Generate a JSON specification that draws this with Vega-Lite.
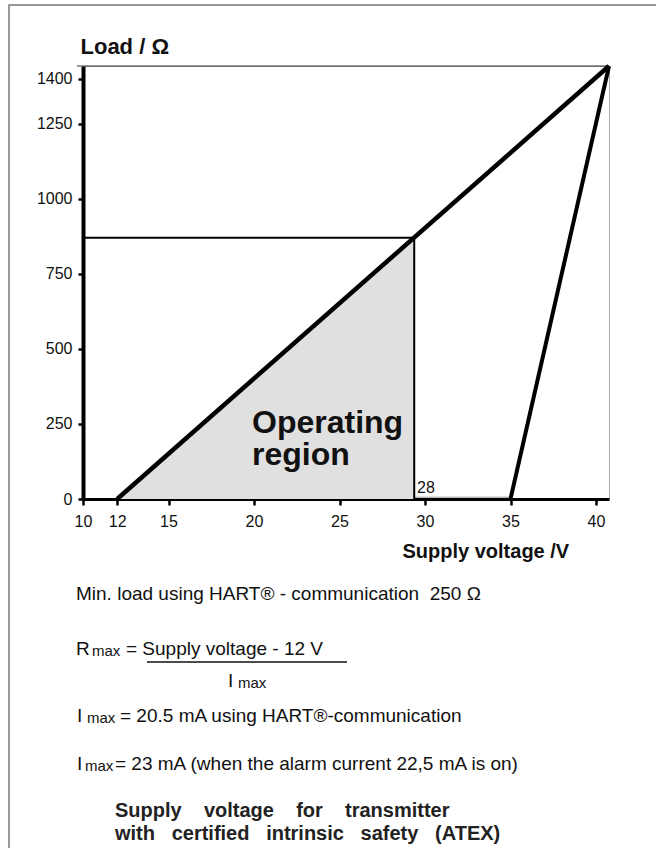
{
  "$schema": "https://vega.github.io/schema/vega-lite/v6.json",
  "width": 526,
  "height": 433,
  "autosize": "none",
  "padding": {"left": 83, "top": 66, "right": 47, "bottom": 349},
  "background": "white",
  "config": {
    "view": {"stroke": "#aaaaaa", "strokeWidth": 1},
    "font": "Liberation Sans"
  },
  "datasets": {
    "lines": [
      {"series": "diagonal", "v": 12, "r": 0},
      {"series": "diagonal", "v": 40.76, "r": 1443},
      {"series": "steep", "v": 35, "r": 0},
      {"series": "steep", "v": 40.76, "r": 1443},
      {"series": "limitH", "v": 10, "r": 871},
      {"series": "limitH", "v": 29.37, "r": 871},
      {"series": "limitV", "v": 29.37, "r": 0},
      {"series": "limitV", "v": 29.37, "r": 871}
    ],
    "region": [
      {"v": 12, "r": 0},
      {"v": 29.37, "r": 871}
    ]
  },
  "layer": [
    {
      "data": {"name": "region"},
      "mark": {"type": "area", "color": "#e0e0e0", "opacity": 1},
      "encoding": {
        "x": {
          "field": "v", "type": "quantitative", "title": "Supply voltage /V",
          "scale": {"domain": [10, 40.76], "nice": false, "zero": false},
          "axis": {
            "values": [10, 12, 15, 20, 25, 30, 35, 40],
            "format": "d",
            "grid": false,
            "domainColor": "#000000", "domainWidth": 3,
            "tickColor": "#000000", "tickWidth": 2.5, "tickSize": 6,
            "labelFont": "Liberation Sans", "labelFontSize": 16, "labelColor": "#111111", "labelPadding": 8,
            "labelFlush": false, "labelOverlap": false,
            "title": "Supply voltage /V",
            "titleFont": "Liberation Sans", "titleFontSize": 20, "titleFontWeight": "bold", "titleColor": "#111111",
            "titleAlign": "left", "titleBaseline": "alphabetic", "titleX": 319, "titleY": 58
          }
        },
        "y": {
          "field": "r", "type": "quantitative", "title": "Load / Ω",
          "scale": {"domain": [0, 1443], "nice": false, "zero": true},
          "axis": {
            "values": [0, 250, 500, 750, 1000, 1250, 1400],
            "format": "d",
            "grid": false,
            "domainColor": "#000000", "domainWidth": 4,
            "tickColor": "#000000", "tickWidth": 2.5, "tickSize": 5,
            "labelFont": "Liberation Sans", "labelFontSize": 16, "labelColor": "#111111", "labelPadding": 6,
            "labelFlush": false, "labelOverlap": false,
            "title": "Load / Ω",
            "titleFont": "Liberation Sans", "titleFontSize": 22, "titleFontWeight": "bold", "titleColor": "#111111",
            "titleAngle": 0, "titleAlign": "left", "titleBaseline": "alphabetic", "titleX": -3, "titleY": -13
          }
        }
      }
    },
    {
      "data": {"values": [{"k": 1}]},
      "mark": {"type": "rule", "color": "#999999", "strokeWidth": 1},
      "encoding": {"x": {"datum": 29.37}, "x2": {"datum": 35}, "y": {"datum": 6}}
    },
    {
      "data": {"values": [{"k": 1}]},
      "mark": {"type": "rule", "color": "#333333", "strokeWidth": 1},
      "encoding": {"x": {"datum": 9.6491}, "x2": {"datum": 40.76}, "y": {"datum": 1443}}
    },
    {
      "data": {"name": "lines"},
      "transform": [{"filter": "datum.series === 'limitH' || datum.series === 'limitV'"}],
      "mark": {"type": "line", "color": "#000000", "strokeWidth": 2},
      "encoding": {
        "x": {"field": "v", "type": "quantitative", "title": "Supply voltage /V"},
        "y": {"field": "r", "type": "quantitative", "title": "Load / Ω"},
        "detail": {"field": "series"}
      }
    },
    {
      "data": {"name": "lines"},
      "transform": [{"filter": "datum.series === 'diagonal'"}],
      "mark": {"type": "line", "color": "#000000", "strokeWidth": 4.5},
      "encoding": {
        "x": {"field": "v", "type": "quantitative", "title": "Supply voltage /V"},
        "y": {"field": "r", "type": "quantitative", "title": "Load / Ω"}
      }
    },
    {
      "data": {"name": "lines"},
      "transform": [{"filter": "datum.series === 'steep'"}],
      "mark": {"type": "line", "color": "#000000", "strokeWidth": 4},
      "encoding": {
        "x": {"field": "v", "type": "quantitative", "title": "Supply voltage /V"},
        "y": {"field": "r", "type": "quantitative", "title": "Load / Ω"}
      }
    },
    {
      "data": {"values": [{"k": 1}]},
      "mark": {"type": "text", "font": "Liberation Sans", "align": "left", "baseline": "alphabetic", "color": "#111111", "fontSize": 32, "fontWeight": "bold"},
      "encoding": {"x": {"datum": 19.883}, "y": {"datum": 219.95}, "text": {"value": "Operating"}}
    },
    {
      "data": {"values": [{"k": 1}]},
      "mark": {"type": "text", "font": "Liberation Sans", "align": "left", "baseline": "alphabetic", "color": "#111111", "fontSize": 32, "fontWeight": "bold"},
      "encoding": {"x": {"datum": 19.883}, "y": {"datum": 113.31}, "text": {"value": "region"}}
    },
    {
      "data": {"values": [{"k": 1}]},
      "mark": {"type": "text", "font": "Liberation Sans", "align": "left", "baseline": "alphabetic", "color": "#111111", "fontSize": 16},
      "encoding": {"x": {"datum": 29.532}, "y": {"datum": 20}, "text": {"value": "28"}}
    },
    {
      "data": {"values": [{"k": 1}]},
      "mark": {"type": "text", "font": "Liberation Sans", "align": "left", "baseline": "alphabetic", "color": "#111111", "fontSize": 19},
      "encoding": {"x": {"datum": 9.5906}, "y": {"datum": -336.59}, "text": {"value": "Min. load using HART® - communication\u00a0\u00a0250 Ω"}}
    },
    {
      "data": {"values": [{"k": 1}]},
      "mark": {"type": "text", "font": "Liberation Sans", "align": "left", "baseline": "alphabetic", "color": "#111111", "fontSize": 19},
      "encoding": {"x": {"datum": 9.5906}, "y": {"datum": -519.88}, "text": {"value": "R"}}
    },
    {
      "data": {"values": [{"k": 1}]},
      "mark": {"type": "text", "font": "Liberation Sans", "align": "left", "baseline": "alphabetic", "color": "#111111", "fontSize": 15},
      "encoding": {"x": {"datum": 10.5263}, "y": {"datum": -523}, "text": {"value": "max"}}
    },
    {
      "data": {"values": [{"k": 1}]},
      "mark": {"type": "text", "font": "Liberation Sans", "align": "left", "baseline": "alphabetic", "color": "#111111", "fontSize": 19},
      "encoding": {"x": {"datum": 12.5146}, "y": {"datum": -519.88}, "text": {"value": "= Supply voltage - 12 V"}}
    },
    {
      "data": {"values": [{"k": 1}]},
      "mark": {"type": "rule", "color": "#111111", "strokeWidth": 1.5},
      "encoding": {"x": {"datum": 13.7427}, "x2": {"datum": 25.4385}, "y": {"datum": -543.21}}
    },
    {
      "data": {"values": [{"k": 1}]},
      "mark": {"type": "text", "font": "Liberation Sans", "align": "left", "baseline": "alphabetic", "color": "#111111", "fontSize": 19},
      "encoding": {"x": {"datum": 18.4795}, "y": {"datum": -626.52}, "text": {"value": "I"}}
    },
    {
      "data": {"values": [{"k": 1}]},
      "mark": {"type": "text", "font": "Liberation Sans", "align": "left", "baseline": "alphabetic", "color": "#111111", "fontSize": 15},
      "encoding": {"x": {"datum": 19.0643}, "y": {"datum": -629}, "text": {"value": "max"}}
    },
    {
      "data": {"values": [{"k": 1}]},
      "mark": {"type": "text", "font": "Liberation Sans", "align": "left", "baseline": "alphabetic", "color": "#111111", "fontSize": 19},
      "encoding": {"x": {"datum": 9.6491}, "y": {"datum": -743.16}, "text": {"value": "I"}}
    },
    {
      "data": {"values": [{"k": 1}]},
      "mark": {"type": "text", "font": "Liberation Sans", "align": "left", "baseline": "alphabetic", "color": "#111111", "fontSize": 15},
      "encoding": {"x": {"datum": 10.2339}, "y": {"datum": -746}, "text": {"value": "max"}}
    },
    {
      "data": {"values": [{"k": 1}]},
      "mark": {"type": "text", "font": "Liberation Sans", "align": "left", "baseline": "alphabetic", "color": "#111111", "fontSize": 19},
      "encoding": {"x": {"datum": 12.1637}, "y": {"datum": -743.16}, "text": {"value": "= 20.5 mA using HART®-communication"}}
    },
    {
      "data": {"values": [{"k": 1}]},
      "mark": {"type": "text", "font": "Liberation Sans", "align": "left", "baseline": "alphabetic", "color": "#111111", "fontSize": 19},
      "encoding": {"x": {"datum": 9.6491}, "y": {"datum": -903.13}, "text": {"value": "I"}}
    },
    {
      "data": {"values": [{"k": 1}]},
      "mark": {"type": "text", "font": "Liberation Sans", "align": "left", "baseline": "alphabetic", "color": "#111111", "fontSize": 15},
      "encoding": {"x": {"datum": 10.117}, "y": {"datum": -906}, "text": {"value": "max"}}
    },
    {
      "data": {"values": [{"k": 1}]},
      "mark": {"type": "text", "font": "Liberation Sans", "align": "left", "baseline": "alphabetic", "color": "#111111", "fontSize": 19},
      "encoding": {"x": {"datum": 11.8713}, "y": {"datum": -903.13}, "text": {"value": "= 23 mA (when the alarm current 22,5 mA is on)"}}
    },
    {
      "data": {"values": [{"k": 1}]},
      "mark": {"type": "text", "font": "Liberation Sans", "align": "left", "baseline": "alphabetic", "fontSize": 20, "fontWeight": "bold", "color": "#222222"},
      "encoding": {"x": {"datum": 11.8713}, "y": {"datum": -1059.76}, "text": {"value": "Supply\u00a0\u00a0\u00a0 voltage\u00a0\u00a0\u00a0 for\u00a0\u00a0\u00a0 transmitter"}}
    },
    {
      "data": {"values": [{"k": 1}]},
      "mark": {"type": "text", "font": "Liberation Sans", "align": "left", "baseline": "alphabetic", "fontSize": 20, "fontWeight": "bold", "color": "#222222"},
      "encoding": {"x": {"datum": 11.8713}, "y": {"datum": -1136.4}, "text": {"value": "with\u00a0\u00a0 certified\u00a0\u00a0 intrinsic\u00a0\u00a0 safety\u00a0\u00a0 (ATEX)"}}
    },
    {
      "data": {"values": [{"k": 1}]},
      "mark": {"type": "rect", "fill": "transparent", "stroke": "#777777", "strokeWidth": 1.5},
      "encoding": {"x": {"datum": 5.6725}, "x2": {"datum": 45}, "y": {"datum": 1646.3}, "y2": {"datum": -1300}}
    }
  ]
}
